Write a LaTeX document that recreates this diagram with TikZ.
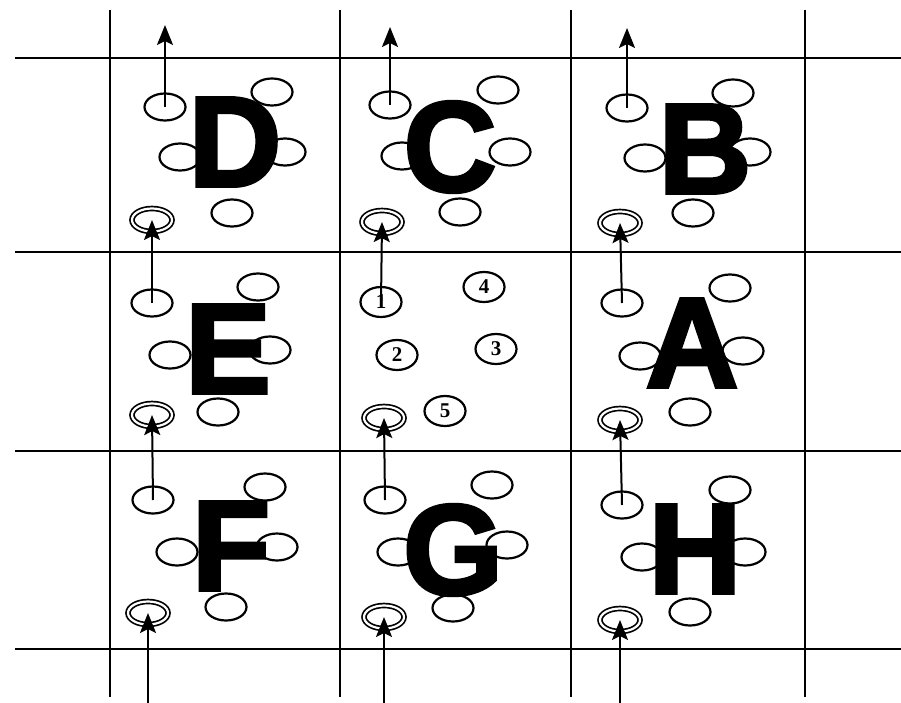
\documentclass[tikz,border=0pt]{standalone}
\usepackage{fontspec}
\setmainfont{Liberation Sans}
\newfontfamily\zonefont{Liberation Sans}[BoldFeatures={FakeBold=3}]
\newfontfamily\numfont{Liberation Serif}
\usetikzlibrary{arrows.meta,shapes.geometric}

\begin{document}
\begin{tikzpicture}[x=1pt,y=-1pt,
  gridline/.style={line width=2.8pt},
  spot/.style={draw,ellipse,line width=2.2pt,minimum width=41pt,minimum height=27pt,inner sep=0pt},
  numspot/.style={spot,minimum height=30pt,font=\numfont\fontsize{21}{21}\selectfont\bfseries},
  gate/.style={draw,ellipse,double,double distance=2.2pt,line width=1.7pt,minimum width=40pt,minimum height=23pt,inner sep=0pt},
  zone/.style={inner sep=0pt,font=\zonefont\fontsize{128}{128}\selectfont\bfseries},
  flow/.style={-{Stealth[length=20pt,width=16pt,inset=4pt]},line width=2pt}]
\useasboundingbox (0,0) rectangle (901,703);
% grid
\draw[gridline] (15,58)--(901,58) (15,252)--(901,252) (15,451)--(901,451) (15,649)--(901,649);
\draw[gridline] (110,10)--(110,697) (340,10)--(340,697) (571,10)--(571,697) (805,10)--(805,697);
% top row
\node[spot](D-out) at (165,107){};\node[spot](D-tr) at (272,92){};\node[spot](D-ml) at (180,157){};\node[spot](D-mr) at (285,152){};\node[spot](D-bot) at (232,213){};\node[gate](D-in) at (152,220){};
\node[spot](C-out) at (390,105){};\node[spot](C-tr) at (498,90){};\node[spot](C-ml) at (402,156){};\node[spot](C-mr) at (510,152){};\node[spot](C-bot) at (460,212){};\node[gate](C-in) at (382,222){};
\node[spot](B-out) at (627,108){};\node[spot](B-tr) at (733,93){};\node[spot](B-ml) at (645,158){};\node[spot](B-mr) at (750,152){};\node[spot](B-bot) at (693,213){};\node[gate](B-in) at (620,223){};
% middle row
\node[spot](E-out) at (152,303){};\node[spot](E-tr) at (258,287){};\node[spot](E-ml) at (170,355){};\node[spot](E-mr) at (270,350){};\node[spot](E-bot) at (218,412){};\node[gate](E-in) at (152,415){};
\node[numspot](M-1) at (381,302){1};\node[numspot](M-4) at (484,287){4};\node[numspot](M-2) at (397,355){2};\node[numspot](M-3) at (496,349){3};\node[numspot](M-5) at (445,411){5};\node[gate](M-in) at (384,418){};
\node[spot](A-out) at (622,303){};\node[spot](A-tr) at (730,288){};\node[spot](A-ml) at (640,356){};\node[spot](A-mr) at (743,351){};\node[spot](A-bot) at (690,412){};\node[gate](A-in) at (620,420){};
% bottom row
\node[spot](F-out) at (153,500){};\node[spot](F-tr) at (265,487){};\node[spot](F-ml) at (177,552){};\node[spot](F-mr) at (277,547){};\node[spot](F-bot) at (226,607){};\node[gate](F-in) at (148,613){};
\node[spot](G-out) at (385,500){};\node[spot](G-tr) at (492,485){};\node[spot](G-ml) at (398,552){};\node[spot](G-mr) at (507,545){};\node[spot](G-bot) at (453,608){};\node[gate](G-in) at (384,617){};
\node[spot](H-out) at (622,505){};\node[spot](H-tr) at (730,490){};\node[spot](H-ml) at (642,557){};\node[spot](H-mr) at (745,552){};\node[spot](H-bot) at (690,612){};\node[gate](H-in) at (620,620){};
% letters
\node[zone](D) at (235,142){D};\node[zone](C) at (450,147){C};\node[zone](B) at (705,149){B};
\node[zone](E) at (228,349){E};\node[zone](A) at (692,343){A};
\node[zone](F) at (231,546){F};\node[zone](G) at (453,550){G};\node[zone](H) at (695,549){H};
% free ends
\coordinate(D-top) at (165,25);\coordinate(C-top) at (390,27);\coordinate(B-top) at (627,28);
\coordinate(F-base) at (148,703);\coordinate(G-base) at (384,703);\coordinate(H-base) at (620,703);
\draw[flow](D-out.center)--(D-top);\draw[flow](C-out.center)--(C-top);\draw[flow](B-out.center)--(B-top);
\draw[flow](E-out.center)--(D-in.center);\draw[flow](M-1.center)--(C-in.center);\draw[flow](A-out.center)--(B-in.center);
\draw[flow](F-out.center)--(E-in.center);\draw[flow](G-out.center)--(M-in.center);\draw[flow](H-out.center)--(A-in.center);
\draw[flow](F-base)--(F-in.center);\draw[flow](G-base)--(G-in.center);\draw[flow](H-base)--(H-in.center);
\end{tikzpicture}
\end{document}
